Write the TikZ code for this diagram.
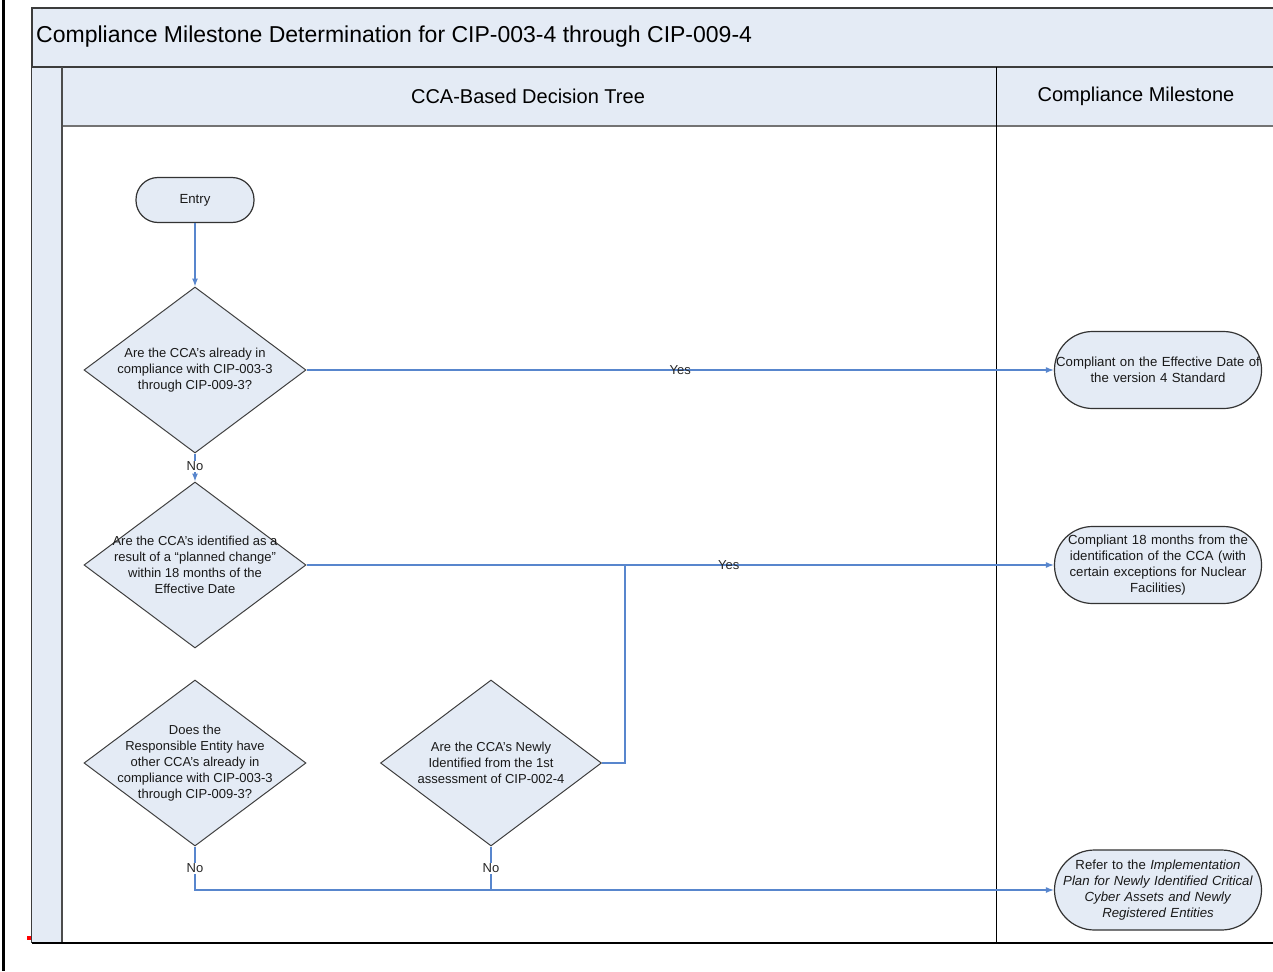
\documentclass[tikz,border=0pt]{standalone}
\usepackage{fontspec}
\setmainfont{Liberation Sans}
\usetikzlibrary{shapes.geometric,arrows.meta}
\definecolor{panel}{RGB}{228,235,245}
\definecolor{flow}{RGB}{88,134,205}
\definecolor{frame}{RGB}{60,60,60}
\begin{document}
\begin{tikzpicture}[x=1pt,y=-1pt,
  txt/.style={font=\fontsize{13}{16}\selectfont, align=center, text=black!90},
  dec/.style={diamond, draw=black!75, fill=panel, line width=1pt, minimum width=222pt, minimum height=166pt, inner sep=0pt},
  term/.style={rectangle, rounded corners=38pt, draw=black!80, fill=panel, line width=1.2pt, minimum width=207pt, minimum height=77pt, text width=205pt, inner sep=0pt, font=\fontsize{13.2}{16}\selectfont, align=center, text=black!90},
  flowline/.style={draw=flow, line width=1.3pt},
  arr/.style={flowline, -{Latex[length=8pt,width=6pt]}},
  lbl/.style={font=\fontsize{13}{14}\selectfont, text=black!85, inner sep=1pt},
  lblw/.style={lbl, fill=white}
]
\useasboundingbox (0,0) rectangle (1273,971);
% page-edge line
\draw[black, line width=3pt] (3,0) -- (3,971);
% red mark
\fill[red] (27,936) rectangle (31,940);
% title band
\fill[panel] (32,8) rectangle (1273,67);
\draw[frame, line width=1.6pt] (1273,8) -- (32,8) -- (32,943);
\node[anchor=west, font=\fontsize{23}{26}\selectfont, inner sep=0pt] (title) at (36,37) {Compliance Milestone Determination for CIP-003-4 through CIP-009-4};
% left strip
\fill[panel] (32,67) rectangle (62,943);
% header row
\fill[panel] (62,67) rectangle (1273,126);
\draw[frame, line width=1.6pt] (32,67) -- (1273,67);
\draw[black!55, line width=1.4pt] (62,126) -- (1273,126);
\draw[black!70, line width=1.6pt] (62,67) -- (62,943);
\draw[black, line width=1pt] (996,67) -- (996,943);
\draw[black, line width=1.4pt] (32,943) -- (1273,943);
\node[font=\fontsize{20}{24}\selectfont] (h1) at (528,96) {CCA-Based Decision Tree};
\node[font=\fontsize{20}{24}\selectfont] (h2) at (1136,96) {Compliance Milestone};

% nodes
\node[term, rounded corners=22pt, minimum width=118pt, text width=116pt, minimum height=45pt] (entry) at (195,200) {Entry};
\node[dec, label={[txt]center:Are the CCA’s already in\\compliance with CIP-003-3\\through CIP-009-3?}] (d1) at (195,370) {};
\node[dec, label={[txt]center:Are the CCA’s identified as a\\result of a “planned change”\\within 18 months of the\\Effective Date}] (d2) at (195,565) {};
\node[dec, label={[txt]center:Does the\\Responsible Entity have\\other CCA’s already in\\compliance with CIP-003-3\\through CIP-009-3?}] (d3) at (195,763) {};
\node[dec, minimum width=221pt, label={[txt]center:Are the CCA’s Newly\\Identified from the 1st\\assessment of CIP-002-4}] (d4) at (491,763) {};

\node[term] (t1) at (1158,370) {Compliant on the Effective Date of\\the version 4 Standard};
\node[term] (t2) at (1158,565) {Compliant 18 months from the\\identification of the CCA (with\\certain exceptions for Nuclear\\Facilities)};
\node[term, minimum height=80pt, rounded corners=40pt] (t3) at (1158,890) {Refer to the \textit{Implementation}\\\textit{Plan for Newly Identified Critical}\\\textit{Cyber Assets and Newly}\\\textit{Registered Entities}};

\coordinate (j4) at (625,763);
\coordinate (j4b) at (625,565);
\coordinate (b3) at (195,890);
\coordinate (b4) at (491,890);

% connectors
\draw[arr] (entry) -- (d1);
\draw[arr] (d1.east) -- node[lbl, pos=0.5] (y1) {Yes} (t1.west);
\draw[arr] (d1.south) -- node[lblw, pos=0.45] (n1) {No} (d2.north);
\draw[arr] (d2.east) -- node[lbl, pos=0.565] (y2) {Yes} (t2.west);
\draw[flowline] (d4.east) -- (j4) -- (j4b);
\draw[arr] (d3.south) -- node[lblw, pos=0.5] (n3) {No} (b3) -- (t3.west);
\draw[flowline] (d4.south) -- node[lblw, pos=0.5] (n4) {No} (b4);
\end{tikzpicture}
\end{document}
